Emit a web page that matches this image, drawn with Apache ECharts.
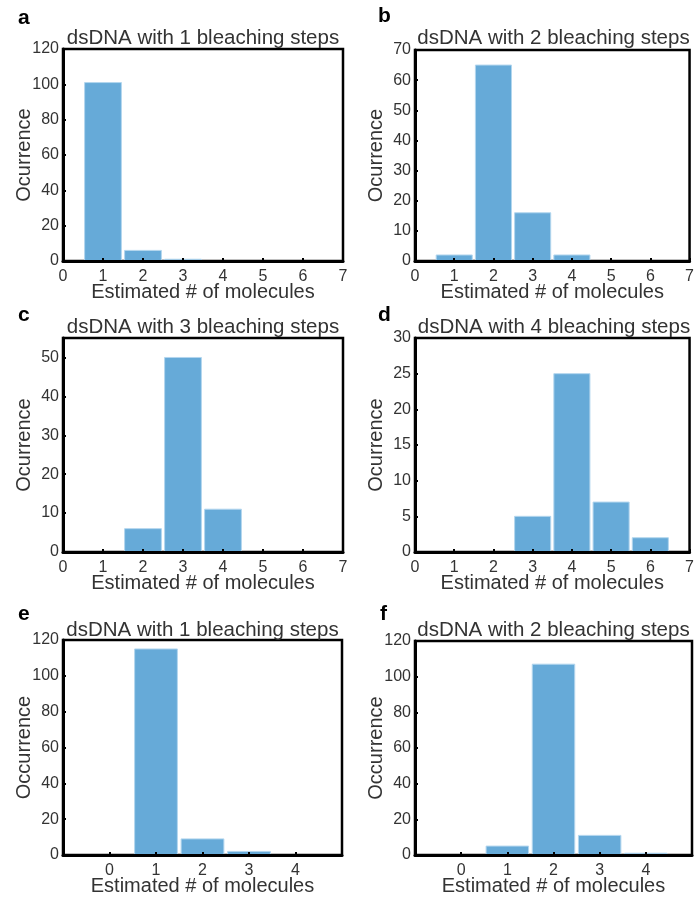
<!DOCTYPE html>
<html>
<head>
<meta charset="utf-8">
<script src="https://cdn.jsdelivr.net/npm/echarts@6/dist/echarts.min.js"></script>
<style>
html,body{margin:0;padding:0;background:#fff;}
#chart{width:697px;height:897px;}
</style>
</head>
<body>
<div id="chart"></div>
<script>
// ---- data ----
const panelLetters = ['a', 'b', 'c', 'd', 'e', 'f'];
const panelTitles = [
  'dsDNA with 1 bleaching steps',
  'dsDNA with 2 bleaching steps',
  'dsDNA with 3 bleaching steps',
  'dsDNA with 4 bleaching steps',
  'dsDNA with 1 bleaching steps',
  'dsDNA with 2 bleaching steps'
];
const yNames = ['Ocurrence', 'Ocurrence', 'Ocurrence', 'Ocurrence', 'Occurrence', 'Occurrence'];
const xName = 'Estimated # of molecules';

const xA = [1, 2, 3];        const yA = [101, 6, 1];
const xB = [1, 2, 3, 4];     const yB = [2, 65, 16, 2];
const xC = [2, 3, 4];        const yC = [6, 50, 11];
const xD = [3, 4, 5, 6];     const yD = [5, 25, 7, 2];
const xE = [0, 1, 2, 3, 4];  const yE = [0, 115, 9, 2, 0];
const xF = [0, 1, 2, 3, 4];  const yF = [0, 5, 107, 11, 1];

const xAxisMin = [0, 0, 0, 0, -1, -1];
const xAxisMax = [7, 7, 7, 7, 5, 5];
const yAxisMax = [120, 70, 55, 30, 120, 120];
const yAxisInterval = [20, 10, 10, 5, 20, 20];

const panelX = [xA, xB, xC, xD, xE, xF];
const panelY = [yA, yB, yC, yD, yE, yF];

// ---- layout ----
const grids = [
  {left: 63, top: 49, width: 280, height: 212},
  {left: 415, top: 50, width: 277, height: 211},
  {left: 63, top: 338, width: 280, height: 214},
  {left: 415, top: 338, width: 278, height: 214},
  {left: 63, top: 640, width: 279, height: 215},
  {left: 415, top: 641, width: 277, height: 214}
];
const letterPos = [[18, 8], [378, 6], [18, 305], [378, 305], [18, 604], [380, 604]];
const titleTop = [28, 28, 317, 317, 620, 620];

const FONT = 'Liberation Sans, Arial, sans-serif';
const BAR = '#66aad8';
const BAR_EDGE = '#b3d6ee';

const chart = echarts.init(document.getElementById('chart'));

const option = {
  backgroundColor: '#fff',
  animation: false,
  title: [],
  grid: [],
  xAxis: [],
  yAxis: [],
  series: [],
  graphic: []
};

grids.forEach((g, i) => {
  option.grid.push(Object.assign({
    show: true, borderColor: '#000', borderWidth: 2.5, backgroundColor: 'transparent', containLabel: false
  }, g));
  option.title.push({
    text: panelTitles[i],
    left: g.left + g.width / 2,
    top: titleTop[i],
    padding: 0,
    textAlign: 'center',
    textStyle: {fontFamily: FONT, fontSize: 20.5, fontWeight: 'normal', color: '#333'}
  });
  option.graphic.push({
    type: 'text',
    left: letterPos[i][0],
    top: letterPos[i][1],
    style: {text: panelLetters[i], fontFamily: FONT, fontSize: 21, fontWeight: 'bold', fill: '#000'}
  });
  const lo = xAxisMin[i], hi = xAxisMax[i];
  option.xAxis.push({
    type: 'value', gridIndex: i, min: lo, max: hi, interval: 1,
    name: xName, nameLocation: 'middle', nameGap: 21, nameMoveOverlap: false,
    nameTextStyle: {fontFamily: FONT, fontSize: 20, color: '#333'},
    splitLine: {show: false},
    axisLine: {show: true, onZero: false, lineStyle: {color: '#000', width: 3}},
    axisTick: {show: true, inside: true, length: 3, lineStyle: {color: '#000', width: 2}},
    axisLabel: {
      fontFamily: FONT, fontSize: 16, color: '#333', margin: 8,
      formatter: v => (v < 0 || (hi === 5 && v === 5)) ? '' : String(v)
    },
    z: 5
  });
  option.yAxis.push({
    type: 'value', gridIndex: i, min: 0, max: yAxisMax[i], interval: yAxisInterval[i],
    name: yNames[i], nameLocation: 'middle', nameGap: 29, nameMoveOverlap: false,
    nameTextStyle: {fontFamily: FONT, fontSize: 20, color: '#333'},
    splitLine: {show: false},
    axisLine: {show: true, onZero: false, lineStyle: {color: '#000', width: 3}},
    axisTick: {show: true, inside: true, length: 3, lineStyle: {color: '#000', width: 2}},
    axisLabel: {fontFamily: FONT, fontSize: 16, color: '#333', margin: 4, showMaxLabel: yAxisMax[i] % yAxisInterval[i] === 0},
    z: 5
  });
  const data = panelX[i].map((x, k) => [x, panelY[i][k]]);
  option.series.push({
    type: 'custom',
    xAxisIndex: i, yAxisIndex: i,
    data: data,
    z: 2,
    renderItem: function (params, api) {
      const x = api.value(0), y = api.value(1);
      if (!y) return null;
      const p0 = api.coord([x - 0.46, y]);
      const p1 = api.coord([x + 0.46, 0]);
      return {
        type: 'rect',
        shape: {x: p0[0], y: p0[1], width: p1[0] - p0[0], height: p1[1] - p0[1]},
        style: {fill: BAR, stroke: BAR_EDGE, lineWidth: 1}
      };
    }
  });
});

chart.setOption(option);
</script>
</body>
</html>
